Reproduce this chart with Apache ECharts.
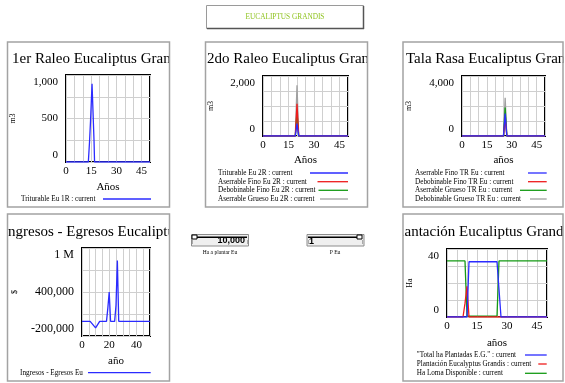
<!DOCTYPE html>
<html><head><meta charset="utf-8">
<script src="https://cdn.jsdelivr.net/npm/echarts@6/dist/echarts.min.js"></script>
<style>html,body{margin:0;padding:0;background:#fff}#c{width:565px;height:383px}</style>
</head><body><div id="c"></div>
<script>
// ---------------- DATA ----------------
const xLabels15 = [0, 15, 30, 45];
const xLabels20 = [0, 20, 40];

// 1er Raleo
const t1R = [0, 13.3, 14, 14.6, 15.5, 15.9, 16.7, 17, 50];
const triturable1R = [0, 0, 230, 470, 900, 675, 233, 0, 0];
const yLabels1R = [0, 500, 1000];

// 2do Raleo
const t2R = [0, 19, 20, 21, 50];
const triturable2R = [0, 0, 410, 0, 0];
const aserrableFino2R = [0, 0, 1077, 0, 0];
const debobinableFino2R = [0, 0, 800, 0, 0];
const aserrableGrueso2R = [0, 0, 1690, 0, 0];
const yLabels2R = [0, 2000];

// Tala Rasa
const tTR = [0, 25, 26, 27, 50];
const aserrableFinoTR = [0, 0, 1500, 0, 0];
const debobinableFinoTR = [0, 0, 1200, 0, 0];
const aserrableGruesoTR = [0, 0, 1900, 0, 0];
const debobinableGruesoTR = [0, 0, 2550, 0, 0];
const yLabelsTR = [0, 4000];

// Ingresos - Egresos
const tIE = [0, 6, 10, 13, 18, 19, 20, 21, 24, 25, 26, 27, 50];
const ingresosEgresos = [0, 0, -90000, 0, 0, 180000, 400000, 0, 0, 220000, 830000, 0, 0];
const yLabelsIE = [-200000, 400000, 1000000];

// Plantación
const tTotal = [0, 10, 11, 25, 27, 50];
const totalHaPlantadas = [0, 0, 32.5, 32.5, 0, 0];
const tPlantacion = [0, 8, 9, 10, 11, 50];
const plantacionEG = [0, 0, 8, 18, 0, 0];
const tLoma = [0, 9, 10, 25, 26, 50];
const haLomaDisponible = [33, 33, 0.5, 0.5, 33, 33];
const yLabelsPl = [0, 40];

// ---------------- LAYOUT ----------------
const SERIF = '"Liberation Serif", "Times New Roman", serif';
const SANS = '"Liberation Sans", Arial, sans-serif';
const BLUE = '#2b2bff', RED = '#ee1c1c', GREEN = '#159a15', GRAY = '#a0a0a0';

const grids = [
  {left: 66, top: 75, width: 84, height: 87},
  {left: 263, top: 76, width: 85, height: 60},
  {left: 462, top: 76, width: 83, height: 60},
  {left: 82, top: 248, width: 68, height: 88},
  {left: 447, top: 249, width: 100, height: 68}
];

function pairs(t, v) { return t.map((x, i) => [x, v[i]]); }
function fmtNum(v) {
  if (v === 1000000) return '1 M';
  return v.toLocaleString('en-US');
}

function xAxisFor(i, labels, name, gap) {
  return {
    gridIndex: i, type: 'value', min: 0, max: 50, interval: 5,
    axisLine: {show: false}, axisTick: {show: false},
    splitLine: {show: true, lineStyle: {color: '#cfcfcf', width: 1}},
    axisLabel: {customValues: labels, fontFamily: SERIF, fontSize: 11, color: '#000', margin: 4},
    name: name, nameLocation: 'middle', nameGap: gap,
    nameTextStyle: {fontFamily: SERIF, fontSize: 11, color: '#000'}
  };
}

function yAxesFor(i, lo, hi, labels, fs, unit, unitGap) {
  const H = grids[i].height, inset = 7;
  const pad = (hi - lo) * inset / (H - 2 * inset);
  return [
    {gridIndex: i, type: 'value', position: 'left', min: 0, max: 4, interval: 1,
     axisLine: {show: false}, axisTick: {show: false}, axisLabel: {show: false},
     splitLine: {show: true, lineStyle: {color: '#cfcfcf', width: 1}}},
    {gridIndex: i, type: 'value', position: 'left', min: lo, max: hi, show: false},
    {gridIndex: i, type: 'value', position: 'left', min: lo - pad, max: hi + pad,
     axisLine: {show: false}, axisTick: {show: false}, splitLine: {show: false},
     axisLabel: {customValues: labels, formatter: fmtNum, fontFamily: SERIF, fontSize: fs, color: '#000', margin: 8},
     name: unit, nameLocation: 'middle', nameGap: unitGap, nameRotate: 90,
     nameTextStyle: {fontFamily: SERIF, fontSize: 8, color: '#000'}}
  ];
}

function lineSeries(name, grid, t, v, color, z) {
  return {
    name: name, type: 'line', xAxisIndex: grid, yAxisIndex: grid * 3 + 1,
    data: pairs(t, v), symbol: 'none', color: color, z: z || 2,
    lineStyle: {color: color, width: 1.3}, clip: true
  };
}

const N1 = ['Triturable Eu 1R : current'];
const N2 = ['Triturable Eu 2R : current', 'Aserrable Fino Eu 2R : current', 'Debobinable Fino Eu 2R : current', 'Aserrable Grueso Eu 2R : current'];
const N3 = ['Aserrable Fino TR Eu : current', 'Debobinable Fino TR Eu : current', 'Aserrable Grueso TR Eu : current', 'Debobinable Grueso TR Eu : current'];
const N4 = ['Ingresos - Egresos Eu'];
const N5 = ['"Total ha Plantadas E.G." : current', 'Plantación Eucalyptus Grandis : current', 'Ha Loma Disponible : current'];

// legend rows: [name, textLeft, rowCenterY, lineStart, lineEnd]
const legendRows = [
  [N1[0], 21, 199, 103, 151],
  [N2[0], 218, 173, 310, 348],
  [N2[1], 218, 181.7, 317.5, 348],
  [N2[2], 218, 190.3, 318.5, 348],
  [N2[3], 218, 199, 320, 348],
  [N3[0], 415, 173, 528, 546.7],
  [N3[1], 415, 181.7, 528, 546.7],
  [N3[2], 415, 190.3, 520, 546.7],
  [N3[3], 415, 199, 530, 546.7],
  [N4[0], 20, 372.7, 88, 150.7],
  [N5[0], 416.7, 355, 525, 546.7],
  [N5[1], 416.7, 364, 538.3, 546.7],
  [N5[2], 416.7, 373.3, 525, 546.7]
];

function legendRow(r) {
  const tw = r[3] - r[1] - 5;
  return {
    data: [r[0]], left: r[1], top: r[2] - 4, orient: 'vertical', align: 'right',
    itemWidth: r[4] - r[3], itemHeight: 8, padding: 0, selectedMode: false,
    itemStyle: {opacity: 0, borderWidth: 0},
    lineStyle: {width: 1.3},
    formatter: n => '{a|' + n + '}',
    textStyle: {fontFamily: SERIF, fontSize: 7.2, color: '#000', lineHeight: 8,
      rich: {a: {width: tw, align: 'left', fontFamily: SERIF, fontSize: 7.2, color: '#000', lineHeight: 8}}}
  };
}

function txt(text, x, y, font, fill, align, z) {
  return {type: 'text', z: z, style: {text: text, x: x, y: y, font: font, fill: fill, textAlign: align || 'left', textVerticalAlign: 'middle'}};
}
function rect(x, y, w, h, fill, stroke, lw, z) {
  return {type: 'rect', z: z, shape: {x: x, y: y, width: w, height: h}, style: {fill: fill, stroke: stroke, lineWidth: lw || 0}};
}
function ln(x1, y1, x2, y2, stroke, lw, z) {
  return {type: 'line', z: z, shape: {x1: x1, y1: y1, x2: x2, y2: y2}, style: {stroke: stroke, lineWidth: lw}};
}

const TF = '15px ' + SERIF;
const graphics = [
  // panel titles (clipped by covers)
  txt('1er Raleo Eucaliptus Grandis', 12, 59, TF, '#000', 'left', 10),
  txt('2do Raleo Eucaliptus Grandis', 207, 59, TF, '#000', 'left', 10),
  txt('Tala Rasa Eucaliptus Grandis', 406, 59, TF, '#000', 'left', 10),
  txt('Ingresos - Egresos Eucaliptus Grandis', 3, 232, TF, '#000', 'left', 10),
  txt('Plantación Eucaliptus Grandis', 392, 232, TF, '#000', 'left', 10),
  // covers
  rect(0, 215, 7, 30, '#fff', null, 0, 11),
  rect(170, 44, 35, 30, '#fff', null, 0, 11),
  rect(368, 44, 35, 30, '#fff', null, 0, 11),
  rect(563.5, 44, 5, 30, '#fff', null, 0, 11),
  rect(170, 216, 233, 30, '#fff', null, 0, 11),
  rect(563.5, 216, 5, 30, '#fff', null, 0, 11),
  // frames
  rect(7.5, 42, 162, 165, null, '#a3a3a3', 1.5, 12),
  rect(205.5, 42, 162, 165, null, '#a3a3a3', 1.5, 12),
  rect(403, 42, 160, 165, null, '#a3a3a3', 1.5, 12),
  rect(7.5, 214, 162, 167, null, '#a3a3a3', 1.5, 12),
  rect(403, 214, 160, 167, null, '#a3a3a3', 1.5, 12),
  // title box
  rect(206.5, 5.5, 157, 23, '#fff', '#9a9a9a', 1, 12),
  ln(207, 28.5, 364, 28.5, '#555', 1.5, 13),
  ln(363.5, 6, 363.5, 29, '#555', 1.5, 13),
  txt('EUCALIPTUS GRANDIS', 285, 17, '7.3px ' + SERIF, '#8fc31f', 'center', 13),
  // slider 1
  rect(191.5, 234.5, 57, 11.5, '#efefef', '#8c8c8c', 1, 14),
  txt('10,000', 245, 240.5, 'bold 9px ' + SANS, '#000', 'right', 15),
  rect(197, 235, 50, 2.6, '#efefef', null, 0, 16),
  ln(193, 237.2, 247, 237.2, '#000', 1.5, 17),
  rect(192, 235, 5, 4, '#fff', '#000', 1, 18),
  ln(192.5, 240, 192.5, 244, '#aaa', 1, 15),
  ln(247.5, 240, 247.5, 244, '#aaa', 1, 15),
  txt('Ha a plantar Eu', 220, 252.5, '5.5px ' + SERIF, '#000', 'center', 14),
  // slider 2
  rect(307, 234.5, 57, 11.5, '#efefef', '#8c8c8c', 1, 14),
  txt('1', 309, 242, 'bold 9px ' + SANS, '#000', 'left', 15),
  ln(308, 237.2, 362, 237.2, '#000', 1.5, 17),
  rect(357, 235, 5, 4, '#fff', '#000', 1, 18),
  ln(308.5, 240, 308.5, 244, '#aaa', 1, 15),
  ln(362.5, 240, 362.5, 244, '#aaa', 1, 15),
  txt('P Eu', 335, 252.5, '5.5px ' + SERIF, '#000', 'center', 14)
];

const option = {
  animation: false,
  backgroundColor: '#fff',
  grid: grids.map(g => Object.assign({show: true, borderColor: '#000', borderWidth: 2, backgroundColor: '#fff'}, g)),
  xAxis: [
    xAxisFor(0, xLabels15, 'Años', 20),
    xAxisFor(1, xLabels15, 'Años', 19),
    xAxisFor(2, xLabels15, 'años', 19),
    xAxisFor(3, xLabels20, 'año', 20),
    xAxisFor(4, xLabels15, 'años', 21)
  ],
  yAxis: [].concat(
    yAxesFor(0, 0, 1000, yLabels1R, 11, 'm3', 49),
    yAxesFor(1, 0, 2000, yLabels2R, 11, 'm3', 48),
    yAxesFor(2, 0, 4000, yLabelsTR, 11, 'm3', 49),
    yAxesFor(3, -200000, 1000000, yLabelsIE, 12, '$', 63),
    yAxesFor(4, 0, 40, yLabelsPl, 11, 'Ha', 33)
  ),
  legend: legendRows.map(legendRow),
  series: [
    lineSeries(N1[0], 0, t1R, triturable1R, BLUE),
    lineSeries(N2[0], 1, t2R, triturable2R, BLUE, 5),
    lineSeries(N2[1], 1, t2R, aserrableFino2R, RED, 4),
    lineSeries(N2[2], 1, t2R, debobinableFino2R, GREEN, 3),
    lineSeries(N2[3], 1, t2R, aserrableGrueso2R, GRAY, 2),
    lineSeries(N3[0], 2, tTR, aserrableFinoTR, BLUE, 5),
    lineSeries(N3[1], 2, tTR, debobinableFinoTR, RED, 4),
    lineSeries(N3[2], 2, tTR, aserrableGruesoTR, GREEN, 3),
    lineSeries(N3[3], 2, tTR, debobinableGruesoTR, GRAY, 2),
    lineSeries(N4[0], 3, tIE, ingresosEgresos, BLUE),
    lineSeries(N5[0], 4, tTotal, totalHaPlantadas, BLUE, 4),
    lineSeries(N5[1], 4, tPlantacion, plantacionEG, RED, 3),
    lineSeries(N5[2], 4, tLoma, haLomaDisponible, GREEN, 2)
  ],
  graphic: {elements: graphics}
};

const chart = echarts.init(document.getElementById('c'), null, {renderer: 'canvas'});
chart.setOption(option);
</script>
</body></html>
